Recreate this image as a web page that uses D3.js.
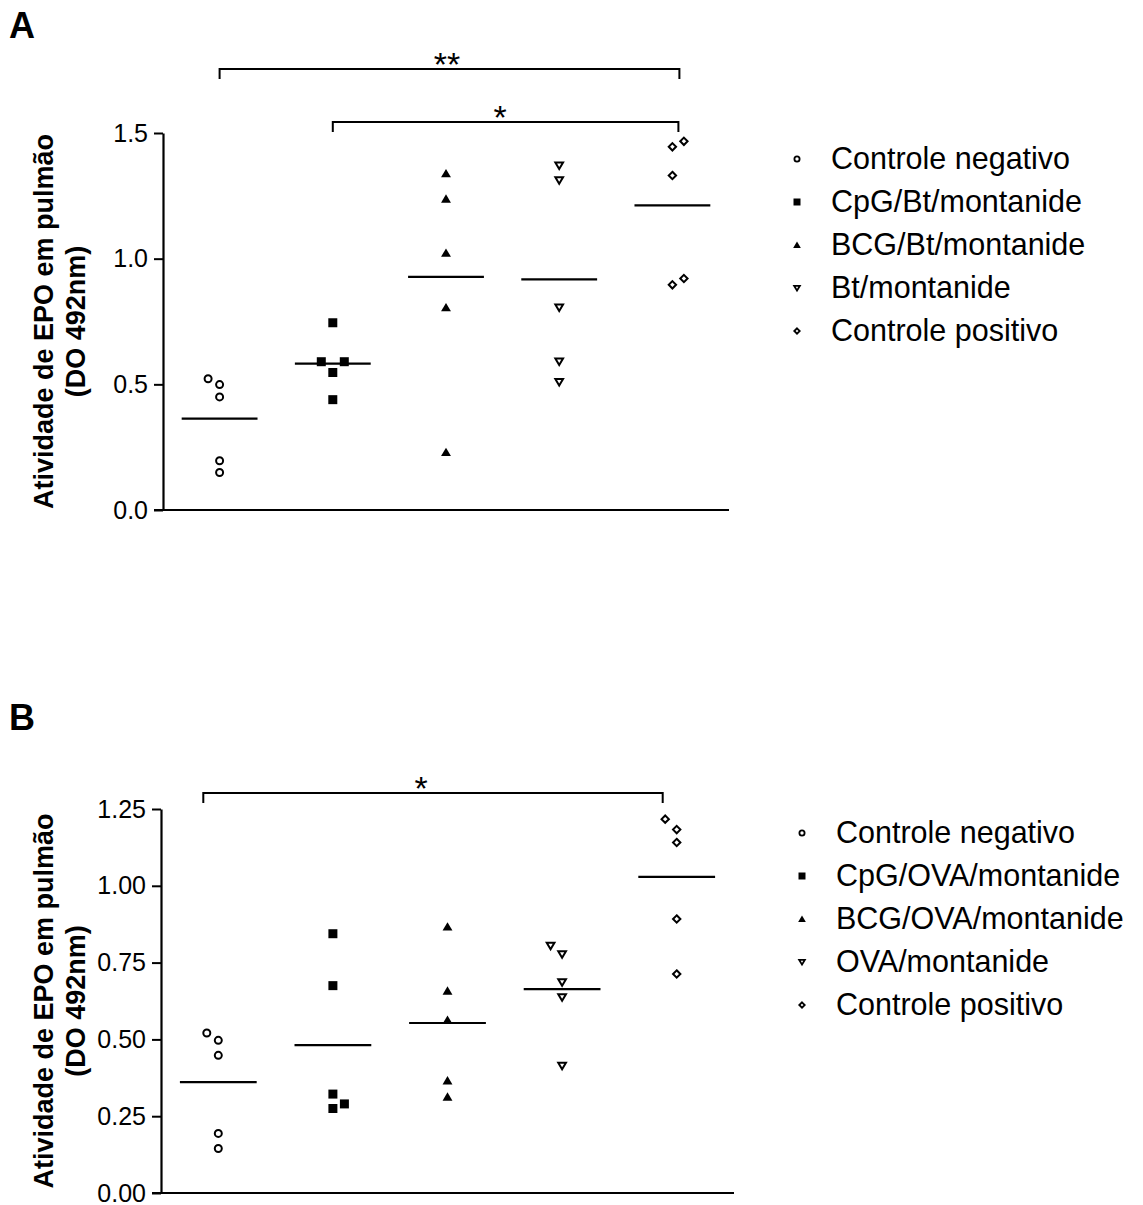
<!DOCTYPE html>
<html>
<head>
<meta charset="utf-8">
<script src="https://cdn.jsdelivr.net/npm/d3@7"></script>
<style>
  html, body { margin: 0; padding: 0; background: #fff; }
  svg { display: block; font-family: "Liberation Sans", Arial, sans-serif; }
</style>
</head>
<body>
<svg id="chart" width="1143" height="1205"></svg>
<script>
// Group names for each panel
const groupsA = ["Controle negativo", "CpG/Bt/montanide", "BCG/Bt/montanide", "Bt/montanide", "Controle positivo"];
const groupsB = ["Controle negativo", "CpG/OVA/montanide", "BCG/OVA/montanide", "OVA/montanide", "Controle positivo"];

// EPO activity (OD 492nm), one array per group
const negA  = [0.522, 0.499, 0.450, 0.196, 0.149];
const cpgA  = [0.745, 0.590, 0.590, 0.547, 0.439];
const bcgA  = [1.339, 1.238, 1.023, 0.806, 0.230];
const btA   = [1.371, 1.312, 0.806, 0.591, 0.509];
const posA  = [1.467, 1.445, 1.331, 0.921, 0.896];

const negB  = [0.521, 0.497, 0.448, 0.194, 0.145];
const cpgB  = [0.844, 0.675, 0.322, 0.290, 0.275];
const bcgB  = [0.867, 0.658, 0.563, 0.366, 0.313];
const ovaB  = [0.805, 0.777, 0.686, 0.637, 0.414];
const posB  = [1.217, 1.183, 1.141, 0.892, 0.713];

// Scatter column slot of each replicate (-1 left, 0 centre, 1 right) for overlapping points
const slotsA = [[-1, 0, 0, 0, 0], [0, -1, 1, 0, 0], [0, 0, 0, 0, 0], [0, 0, 0, 0, 0], [1, 0, 0, 1, 0]];
const slotsB = [[-1, 0, 0, 0, 0], [0, 0, 0, 1, 0], [0, 0, 0, 0, 0], [-1, 0, 0, 0, 0], [-1, 0, 0, 0, 0]];

// Tick values
const ticksA = [0, 0.5, 1.0, 1.5];
const ticksB = [0, 0.25, 0.50, 0.75, 1.00, 1.25];

// Significance comparisons: [from group, to group, label]
const sigA = [[0, 4, "**"], [1, 4, "*"]];
const sigB = [[0, 4, "*"]];

const yTitle1 = "Atividade de EPO em pulmão";
const yTitle2 = "(DO 492nm)";

const svg = d3.select("#chart");

// marker shapes: open circle, filled square, filled triangle, open inverted triangle, open diamond
const markers = ["circle", "square", "triangle", "triangleDown", "diamond"];
const filled  = [false, true, true, false, false];

function markerPath(type, s) {
  const p = d3.path();
  const h = s / 2;
  if (type === "circle") {
    p.moveTo(h, 0); p.arc(0, 0, h, 0, 2 * Math.PI);
  } else if (type === "square") {
    p.rect(-h, -h, s, s);
  } else if (type === "triangle") {
    p.moveTo(0, -h * 1.0); p.lineTo(h * 1.1, h * 0.85); p.lineTo(-h * 1.1, h * 0.85); p.closePath();
  } else if (type === "triangleDown") {
    p.moveTo(0, h * 1.0); p.lineTo(h * 1.1, -h * 0.85); p.lineTo(-h * 1.1, -h * 0.85); p.closePath();
  } else {
    p.moveTo(0, -h * 1.05); p.lineTo(h * 1.05, 0); p.lineTo(0, h * 1.05); p.lineTo(-h * 1.05, 0); p.closePath();
  }
  return p.toString();
}

function drawMarker(g, gi, x, y, s, sw) {
  const open = !filled[gi];
  g.append("path")
    .attr("transform", `translate(${x},${y})`)
    .attr("d", markerPath(markers[gi], open ? s - sw : s))
    .attr("fill", open ? "#fff" : "#000")
    .attr("stroke", open ? "#000" : "none")
    .attr("stroke-width", sw);
}

function panel(cfg) {
  const g = svg.append("g");
  const x = d3.scaleBand().domain(d3.range(cfg.groups.length)).range([cfg.x0, cfg.x1]);
  const y = d3.scaleLinear().domain([0, cfg.yMax]).range([cfg.y0, cfg.y1]);

  // panel letter
  g.append("text").attr("x", 9).attr("y", cfg.letterY)
    .attr("font-size", 36).attr("font-weight", "bold").text(cfg.letter);

  // y axis
  const yAxis = g.append("g").attr("transform", `translate(${cfg.x0},0)`)
    .call(d3.axisLeft(y).tickValues(cfg.ticks).tickFormat(d3.format(cfg.fmt)).tickSize(9).tickSizeOuter(0).tickPadding(6));
  yAxis.select(".domain").attr("stroke-width", 2.2);
  yAxis.selectAll(".tick line").attr("stroke-width", 2);
  yAxis.selectAll(".tick text").attr("font-size", 25).attr("fill", "#000")
    .attr("font-family", "'Liberation Sans', Arial, sans-serif");

  // x axis baseline
  g.append("line").attr("x1", cfg.x0 - 9).attr("x2", cfg.x1)
    .attr("y1", y(0)).attr("y2", y(0)).attr("stroke", "#000").attr("stroke-width", 2.2);

  // y title
  const cy = (cfg.y0 + cfg.y1) / 2;
  const t = g.append("text").attr("transform", `translate(0,${cy}) rotate(-90)`)
    .attr("text-anchor", "middle").attr("font-size", 27).attr("font-weight", "bold");
  t.append("tspan").attr("x", 0).attr("y", 53).text(yTitle1);
  t.append("tspan").attr("x", 0).attr("y", 85).text(yTitle2);

  const step = 11.5;
  cfg.values.forEach((vals, gi) => {
    const cx = x(gi) + x.bandwidth() / 2;
    // mean line
    const m = d3.mean(vals);
    const half = x.bandwidth() * 0.335;
    g.append("line").attr("x1", cx - half).attr("x2", cx + half)
      .attr("y1", y(m)).attr("y2", y(m)).attr("stroke", "#000").attr("stroke-width", 2.2);
    vals.forEach((v, i) => {
      drawMarker(g, gi, cx + cfg.slots[gi][i] * step, y(v), 9, 2);
    });
  });

  // significance brackets
  cfg.sig.forEach((s, k) => {
    const b = cfg.brackets[k];
    const xa = x(s[0]) + x.bandwidth() / 2 + b.dl;
    const xb = x(s[1]) + x.bandwidth() / 2 + b.dr;
    g.append("path")
      .attr("d", `M${xa},${b.y + 10}V${b.y}H${xb}V${b.y + 10}`)
      .attr("fill", "none").attr("stroke", "#000").attr("stroke-width", 2);
    g.append("text").attr("x", b.tx).attr("y", b.y + 7)
      .attr("text-anchor", "middle").attr("font-size", 34).text(s[2]);
  });

  // legend
  cfg.groups.forEach((name, gi) => {
    const ly = cfg.legY + gi * 43;
    drawMarker(g, gi, cfg.legX, ly, 7, 1.8);
    g.append("text").attr("x", cfg.legX + 34).attr("y", ly + 10)
      .attr("font-size", 30.5).text(name);
  });
}

panel({
  letter: "A", letterY: 38,
  groups: groupsA, values: [negA, cpgA, bcgA, btA, posA], slots: slotsA,
  x0: 163, x1: 729, y0: 510, y1: 133, yMax: 1.5, ticks: ticksA, fmt: ".1f",
  sig: sigA,
  brackets: [{ y: 69, dl: 0, dr: 7, tx: 447 }, { y: 122, dl: 0, dr: 6, tx: 500 }],
  legX: 797, legY: 159
});

panel({
  letter: "B", letterY: 730,
  groups: groupsB, values: [negB, cpgB, bcgB, ovaB, posB], slots: slotsB,
  x0: 161, x1: 734, y0: 1193, y1: 809, yMax: 1.25, ticks: ticksB, fmt: ".2f",
  sig: sigB,
  brackets: [{ y: 793, dl: -15, dr: -14, tx: 421 }],
  legX: 802, legY: 833
});
</script>
</body>
</html>
